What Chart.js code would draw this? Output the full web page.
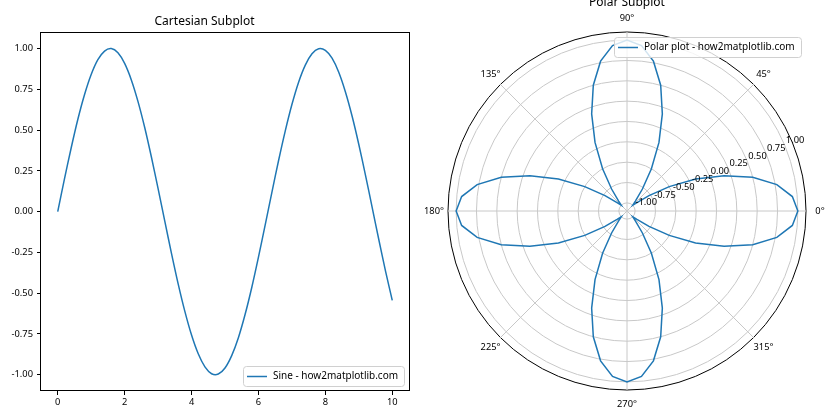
<!DOCTYPE html>
<html>
<head>
<meta charset="utf-8">
<title>Cartesian and Polar Subplots</title>
<script src="https://cdn.jsdelivr.net/npm/chart.js@4.4.0/dist/chart.umd.min.js"></script>
<style>
  html, body { margin: 0; padding: 0; background: #fff; }
  #wrap { display: flex; width: 840px; height: 420px; }
  canvas { display: block; }
</style>
</head>
<body>
<div id="wrap">
  <canvas id="cartesianCanvas" width="420" height="420"></canvas>
  <canvas id="polarCanvas" width="420" height="420"></canvas>
</div>
<script>
// Cartesian subplot data
const sineX = [
  0, 0.2, 0.4, 0.6, 0.8, 1.0, 1.2, 1.4, 1.6, 1.8,
  2.0, 2.2, 2.4, 2.6, 2.8, 3.0, 3.2, 3.4, 3.6, 3.8,
  4.0, 4.2, 4.4, 4.6, 4.8, 5.0, 5.2, 5.4, 5.6, 5.8,
  6.0, 6.2, 6.4, 6.6, 6.8, 7.0, 7.2, 7.4, 7.6, 7.8,
  8.0, 8.2, 8.4, 8.6, 8.8, 9.0, 9.2, 9.4, 9.6, 9.8, 10.0
];
const sineY = [
  0.000, 0.199, 0.389, 0.565, 0.717, 0.841, 0.932, 0.985, 1.000, 0.974,
  0.909, 0.808, 0.675, 0.516, 0.335, 0.141, -0.058, -0.256, -0.443, -0.612,
  -0.757, -0.872, -0.952, -0.994, -0.996, -0.959, -0.883, -0.773, -0.631, -0.465,
  -0.279, -0.083, 0.117, 0.312, 0.494, 0.657, 0.794, 0.899, 0.968, 0.999,
  0.989, 0.941, 0.855, 0.734, 0.585, 0.412, 0.223, 0.025, -0.174, -0.366, -0.544
];
const sineXTicks = [0, 2, 4, 6, 8, 10];
const sineYTicks = [-1, -0.75, -0.5, -0.25, 0, 0.25, 0.5, 0.75, 1];

// Polar subplot data: angles in degrees, in the clockwise order the radar scale walks them
const polarAngles = [
  0, 355, 350, 345, 340, 335, 330, 325, 320, 315, 310, 305, 300, 295, 290, 285, 280, 275,
  270, 265, 260, 255, 250, 245, 240, 235, 230, 225, 220, 215, 210, 205, 200, 195, 190, 185,
  180, 175, 170, 165, 160, 155, 150, 145, 140, 135, 130, 125, 120, 115, 110, 105, 100, 95,
  90, 85, 80, 75, 70, 65, 60, 55, 50, 45, 40, 35, 30, 25, 20, 15, 10, 5
];
const polarValues = [
  1.00, 0.94, 0.77, 0.50, 0.17, -0.17, -0.50, -0.77, -0.94, -1.00, -0.94, -0.77, -0.50, -0.17, 0.17, 0.50, 0.77, 0.94,
  1.00, 0.94, 0.77, 0.50, 0.17, -0.17, -0.50, -0.77, -0.94, -1.00, -0.94, -0.77, -0.50, -0.17, 0.17, 0.50, 0.77, 0.94,
  1.00, 0.94, 0.77, 0.50, 0.17, -0.17, -0.50, -0.77, -0.94, -1.00, -0.94, -0.77, -0.50, -0.17, 0.17, 0.50, 0.77, 0.94,
  1.00, 0.94, 0.77, 0.50, 0.17, -0.17, -0.50, -0.77, -0.94, -1.00, -0.94, -0.77, -0.50, -0.17, 0.17, 0.50, 0.77, 0.94
];
const polarRTicks = [-1, -0.75, -0.5, -0.25, 0, 0.25, 0.5, 0.75, 1];
const polarAngleTicks = [0, 45, 90, 135, 180, 225, 270, 315];
const polarRLabelAngle = 22.5;

// Shared styles
const LINE_COLOR = "#1f77b4";
const FONT_FAMILY = "'Noto Sans', 'Open Sans', sans-serif";
const TICK_SIZE = 9.3;
const LEGEND_SIZE = 10;
const TITLE_SIZE = 12;

function formatTick(v) {
  return v.toFixed(2);
}

// Legend box in matplotlib style, placed in a corner of the chart area
function drawLegendBox(chart, label, corner) {
  const ctx = chart.ctx;
  const area = chart.chartArea;
  ctx.save();
  ctx.font = LEGEND_SIZE + "px " + FONT_FAMILY;
  const textWidth = ctx.measureText(label).width;
  const boxW = Math.round(textWidth + 36);
  const boxH = 20;
  const x = Math.round(area.right - 5 - boxW);
  const y = corner === "bottom" ? Math.round(area.bottom - 5 - boxH) : Math.round(area.top + 5);

  ctx.fillStyle = "rgba(255,255,255,0.8)";
  ctx.strokeStyle = "#d0d0d0";
  ctx.lineWidth = 1;
  ctx.beginPath();
  ctx.roundRect(x + 0.5, y + 0.5, boxW, boxH, 3);
  ctx.fill();
  ctx.stroke();

  ctx.strokeStyle = LINE_COLOR;
  ctx.lineWidth = 1.5;
  ctx.beginPath();
  ctx.moveTo(x + 4, y + boxH / 2 + 0.5);
  ctx.lineTo(x + 24, y + boxH / 2 + 0.5);
  ctx.stroke();

  ctx.fillStyle = "#000";
  ctx.textAlign = "left";
  ctx.textBaseline = "middle";
  ctx.fillText(label, x + 30, y + boxH / 2 + 0.5);
  ctx.restore();
}

// Frame (all four spines) and legend of the cartesian plot
const cartesianDecor = {
  id: "cartesianDecor",
  afterDatasetsDraw(chart) {
    const ctx = chart.ctx;
    const a = chart.chartArea;
    ctx.save();
    ctx.strokeStyle = "#000";
    ctx.lineWidth = 1;
    ctx.strokeRect(Math.round(a.left) - 0.5, Math.round(a.top) + 0.5,
      Math.round(a.right - a.left) + 1, Math.round(a.bottom - a.top) - 1);
    ctx.restore();
    drawLegendBox(chart, chart.data.datasets[0].label, "bottom");
  }
};

// Title, angle labels, radial labels and legend of the polar plot
const polarDecor = {
  id: "polarDecor",
  afterDatasetsDraw(chart) {
    const ctx = chart.ctx;
    const scale = chart.scales.r;
    ctx.save();
    ctx.fillStyle = "#000";

    ctx.font = TITLE_SIZE + "px " + FONT_FAMILY;
    ctx.textAlign = "center";
    ctx.textBaseline = "alphabetic";
    ctx.fillText("Polar Subplot", scale.xCenter, 6);

    ctx.font = TICK_SIZE + "px " + FONT_FAMILY;
    ctx.textBaseline = "middle";
    polarAngles.forEach(function (a, i) {
      if (!polarAngleTicks.includes(a)) return;
      const p = scale.getPointPosition(i, scale.drawingArea + 14);
      ctx.fillText(a + "°", p.x, p.y);
    });

    // radial labels sit along the 22.5° direction (counter-clockwise from 0°)
    const step = 360 / polarAngles.length;
    const labelIndex = polarAngles.length - polarRLabelAngle / step;
    ctx.textAlign = "left";
    ctx.textBaseline = "alphabetic";
    polarRTicks.forEach(function (v) {
      const p = scale.getPointPosition(labelIndex, scale.getDistanceFromCenterForValue(v));
      ctx.fillText(formatTick(v), p.x + 1, p.y - 2.5);
    });
    ctx.restore();

    drawLegendBox(chart, chart.data.datasets[0].label, "top");
  }
};

const tickFont = { family: FONT_FAMILY, size: TICK_SIZE };

// Cartesian subplot
const cartesianChart = new Chart(document.getElementById("cartesianCanvas"), {
  type: "line",
  data: {
    datasets: [{
      label: "Sine - how2matplotlib.com",
      data: sineX.map((x, i) => ({ x: x, y: sineY[i] })),
      borderColor: LINE_COLOR,
      borderWidth: 1.5,
      pointRadius: 0,
      fill: false,
      tension: 0.3
    }]
  },
  options: {
    responsive: false,
    animation: false,
    devicePixelRatio: 1,
    layout: { padding: { left: 0, right: 11, top: 0, bottom: 0 } },
    plugins: {
      legend: { display: false },
      tooltip: { enabled: false },
      title: {
        display: true,
        text: "Cartesian Subplot",
        color: "#000",
        font: { family: FONT_FAMILY, size: TITLE_SIZE, weight: "normal", lineHeight: 1.2 },
        padding: { top: 14.5, bottom: 3.4 }
      }
    },
    scales: {
      x: {
        type: "linear",
        min: -0.5,
        max: 10.5,
        afterBuildTicks: s => { s.ticks = sineXTicks.map(v => ({ value: v })); },
        afterFit: s => { s.height = 29; },
        grid: { drawOnChartArea: false, drawTicks: true, tickLength: 4, tickColor: "#000", color: "#000" },
        border: { display: false },
        ticks: { color: "#000", font: tickFont, padding: 2, maxRotation: 0, callback: v => String(v) }
      },
      y: {
        type: "linear",
        min: -1.1,
        max: 1.1,
        afterBuildTicks: s => { s.ticks = sineYTicks.map(v => ({ value: v })); },
        afterFit: s => { s.width = 41; },
        grid: { drawOnChartArea: false, drawTicks: true, tickLength: 4, tickColor: "#000", color: "#000" },
        border: { display: false },
        ticks: { color: "#000", font: tickFont, padding: 4, callback: v => formatTick(v) }
      }
    }
  },
  plugins: [cartesianDecor]
});

// Polar subplot drawn on a radar scale turned so that 0° points right
const polarChart = new Chart(document.getElementById("polarCanvas"), {
  type: "radar",
  data: {
    labels: polarAngles,
    datasets: [{
      label: "Polar plot - how2matplotlib.com",
      data: polarValues,
      borderColor: LINE_COLOR,
      borderWidth: 1.5,
      pointRadius: 0,
      fill: false,
      tension: 0
    }]
  },
  options: {
    responsive: false,
    animation: false,
    devicePixelRatio: 1,
    layout: { padding: { left: 28, right: 34, top: 32, bottom: 30 } },
    plugins: {
      legend: { display: false },
      tooltip: { enabled: false }
    },
    scales: {
      r: {
        min: -1.1,
        max: 1.1,
        startAngle: 90,
        afterBuildTicks: s => { s.ticks = polarRTicks.concat([1.1]).map(v => ({ value: v })); },
        grid: {
          circular: true,
          color: c => (c.tick && c.tick.value > 1.05 ? "#000" : "#c8c8c8"),
          lineWidth: 1
        },
        angleLines: {
          color: "#c8c8c8",
          lineWidth: c => (polarAngleTicks.includes(Number(c.label)) ? 1 : 0)
        },
        ticks: { display: false },
        pointLabels: { display: false }
      }
    }
  },
  plugins: [polarDecor]
});
</script>
</body>
</html>
